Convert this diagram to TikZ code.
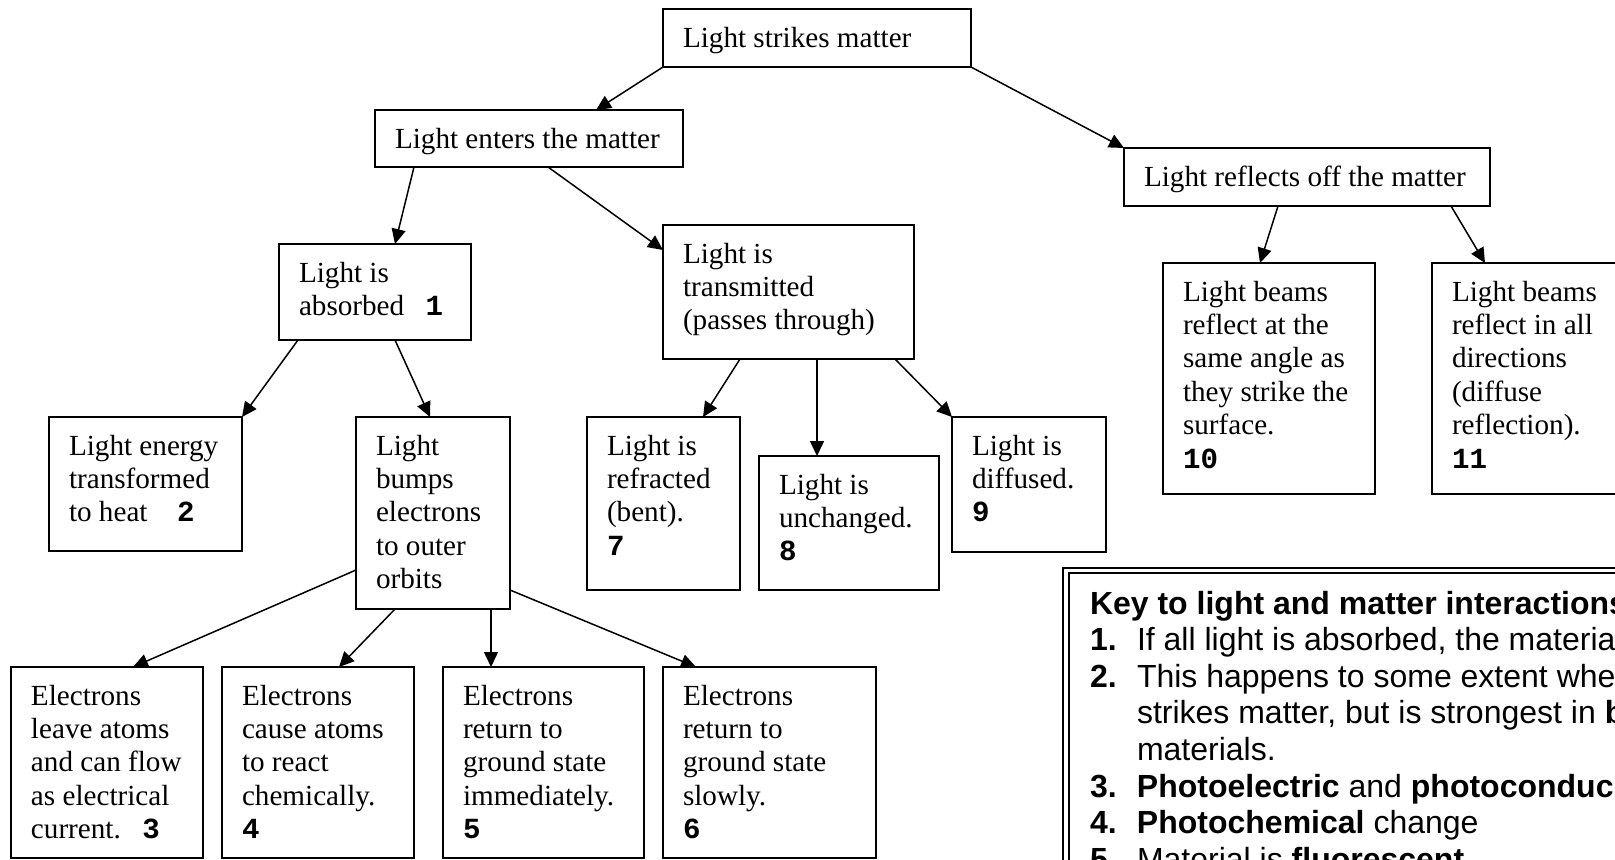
\documentclass[tikz,border=0pt]{standalone}
\usepackage{fontspec}
\setmainfont{Liberation Serif}
\newfontfamily\keyfont{Liberation Sans}
\newfontfamily\numfont{Liberation Mono}
\usetikzlibrary{arrows.meta, positioning, calc}

\newcommand{\itemno}[1]{{\numfont\bfseries #1}}
\newcommand{\keyno}[1]{\makebox[23.5pt][l]{\bfseries #1}}

\begin{document}
\begin{tikzpicture}[
    x=0.5pt, y=-0.5pt,
    box/.style={draw, line width=1.1pt, anchor=north west, outer sep=0pt,
        inner xsep=10pt, inner ysep=0pt, align=left, text height=19pt,
        execute at begin node={\spaceskip=0pt\xspaceskip=0pt\hyphenpenalty=10000\relax},
        font=\fontsize{14.58pt}{16.7pt}\selectfont},
    keybox/.style={draw, line width=1.3pt, anchor=north west, outer sep=0pt,
        inner xsep=13.5pt, inner ysep=0pt, align=left, text width=360pt,
        text height=23pt, text depth=200pt,
        execute at begin node={\spaceskip=0pt\xspaceskip=0pt\hyphenpenalty=10000\relax},
        font=\keyfont\fontsize{16pt}{18.3pt}\selectfont},
    arrow/.style={-{Triangle[length=7.5pt, width=7pt]}, line width=0.75pt}
]
\useasboundingbox (0,0) rectangle (1615,859);
\clip (0,0) rectangle (1615,859);

\node[box, text width=134pt, text depth=10pt]  (strikes)  at (663,9)    {Light strikes matter};
\node[box, text width=134pt, text depth=9.5pt] (enters)   at (375,110)  {Light enters the matter};
\node[box, text width=163pt, text depth=10pt]  (reflects) at (1124,148) {Light reflects off the matter};

\node[box, text width=76pt, text depth=29pt]    (absorbed)    at (279,244) {Light is\\absorbed\hspace{10.65pt}\itemno{1}};
\node[box, text width=105.5pt, text depth=48pt] (transmitted) at (663,225) {Light is\\transmitted\\(passes through)};
\node[box, text width=86pt, text depth=96.5pt]  (beams1)      at (1163,263)
    {Light beams\\reflect at the\\same angle as\\they strike the\\surface.\\\itemno{10}};
\node[box, text width=86pt, text depth=96.5pt, right=28.5pt of beams1] (beams2)
    {Light beams\\reflect in all\\directions\\(diffuse\\reflection).\\\itemno{11}};

\node[box, text width=76.5pt, text depth=48pt]  (energy)    at (49,417)  {Light energy\\transformed\\to heat\hspace{14.75pt}\itemno{2}};
\node[box, text width=57pt, text depth=77pt]    (bumps)     at (356,417) {Light\\bumps\\electrons\\to outer\\orbits};
\node[box, text width=56.5pt, text depth=67.5pt] (refracted) at (587,417) {Light is\\refracted\\(bent).\\\itemno{7}};
\node[box, text width=70pt, text depth=48pt]    (unchanged) at (759,456) {Light is\\unchanged.\\\itemno{8}};
\node[box, text width=57pt, text depth=48.5pt]  (diffused)  at (952,417) {Light is\\diffused.\\\itemno{9}};

\node[box, text width=76pt, text depth=76.5pt] (e1) at (11,667)
    {Electrons\\leave atoms\\and can flow\\as electrical\\current.\hspace{10.7pt}\itemno{3}};
\node[box, text width=76pt, text depth=76.5pt, right=9.5pt of e1] (e2)
    {Electrons\\cause atoms\\to react\\chemically.\\\itemno{4}};
\node[box, text width=80.5pt, text depth=76.5pt, right=14.5pt of e2] (e3)
    {Electrons\\return to\\ground state\\immediately.\\\itemno{5}};
\node[box, text width=86.5pt, text depth=76.5pt, right=9.5pt of e3] (e4)
    {Electrons\\return to\\ground state\\slowly.\\\itemno{6}};

% key, cut off by the page edge
\node[keybox] (key) at (1063,568) {%
    \textbf{Key to light and matter interactions}\\
    \keyno{1.}If all light is absorbed, the materia\\
    \keyno{2.}This happens to some extent whe\\
    \keyno{}strikes matter, but is strongest in \textbf{b}\\
    \keyno{}materials.\\
    \keyno{3.}\textbf{Photoelectric} and \textbf{photoconduc}\\
    \keyno{4.}\textbf{Photochemical} change\\
    \keyno{5.}Material is \textbf{fluorescent}};
\draw[line width=0.75pt] ($(key.north west)+(6,5)$) rectangle ($(key.south east)+(-6,-5)$);

\draw[arrow] (strikes.south west) -- ($(enters.north west)+(221,0)$);
\draw[arrow] (strikes.south east) -- (reflects.north west);
\draw[arrow] ($(enters.south west)+(39,0)$)  -- ($(absorbed.north west)+(116,0)$);
\draw[arrow] ($(enters.south west)+(173,0)$) -- ($(transmitted.north west)+(0,25)$);
\draw[arrow] ($(reflects.south west)+(154,0)$) -- ($(beams1.north west)+(97,0)$);
\draw[arrow] ($(reflects.south west)+(327,0)$) -- ($(beams2.north west)+(53,0)$);
\draw[arrow] ($(absorbed.south west)+(19,0)$)  -- (energy.north east);
\draw[arrow] ($(absorbed.south west)+(116,0)$) -- ($(bumps.north west)+(74,0)$);
\draw[arrow] ($(transmitted.south west)+(77,0)$)  -- ($(refracted.north west)+(116,0)$);
\draw[arrow] ($(transmitted.south west)+(154,0)$) -- ($(unchanged.north west)+(58,0)$);
\draw[arrow] ($(transmitted.south west)+(232,0)$) -- (diffused.north west);
\draw[arrow] ($(bumps.north west)+(0,153)$)  -- ($(e1.north west)+(122,0)$);
\draw[arrow] ($(bumps.south west)+(39,0)$)   -- ($(e2.north west)+(117,0)$);
\draw[arrow] ($(bumps.south west)+(135,0)$)  -- ($(e3.north west)+(48,0)$);
\draw[arrow] ($(bumps.north east)+(0,173)$)  -- ($(e4.north west)+(33,0)$);
\end{tikzpicture}
\end{document}
